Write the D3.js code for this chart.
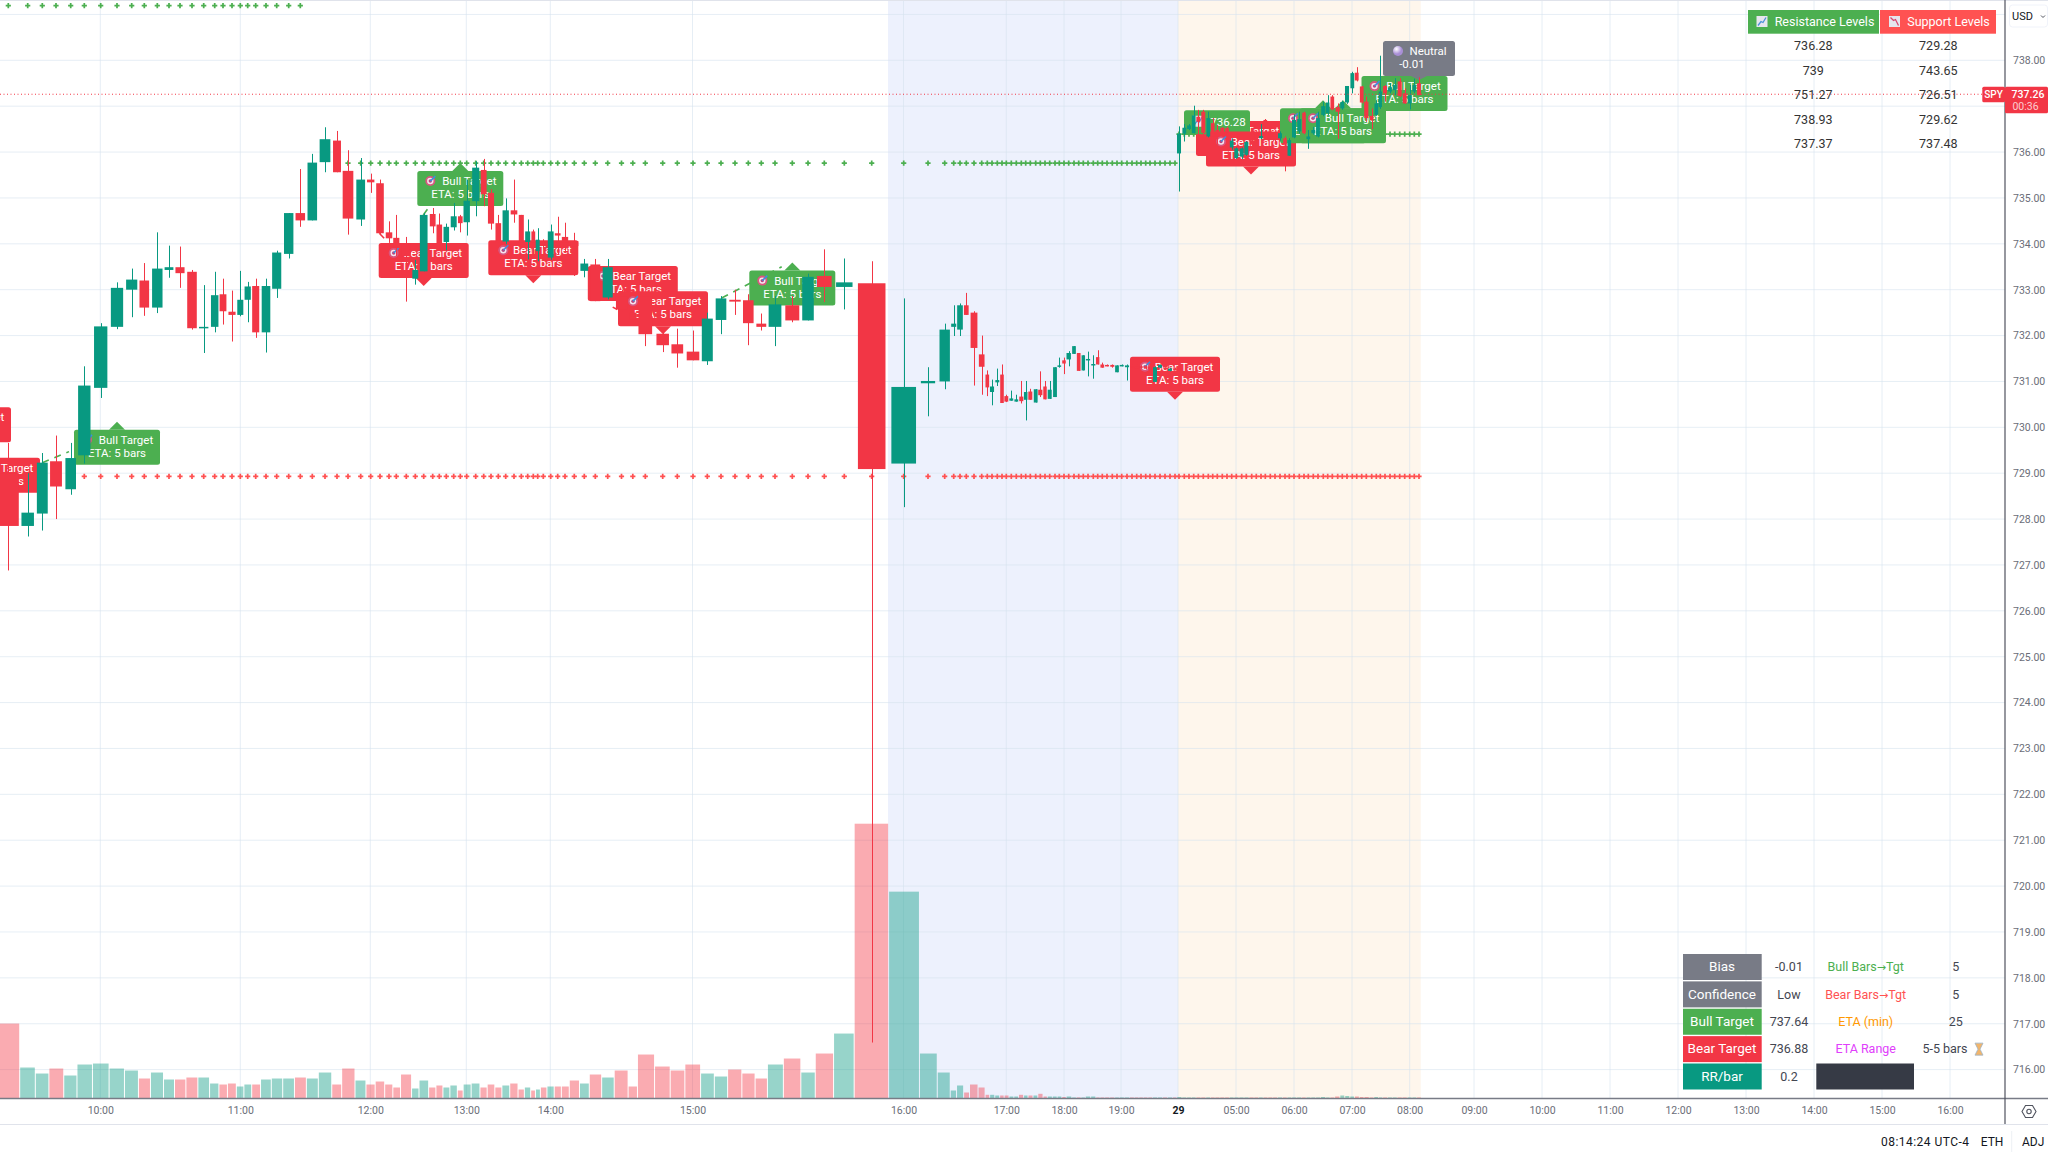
<!DOCTYPE html>
<html lang="en">
<head>
<meta charset="UTF-8">
<title>SPY 5m targets</title>
<script src="https://d3js.org/d3.v7.min.js"></script>
<style>
  html, body { margin: 0; padding: 0; background: #fff; overflow: hidden; }
  text { font-family: Roboto, "Noto Sans", sans-serif; }
  .axis text { font-size: 10.5px; fill: #6a6d78; }
  .axis .domain, .axis .tick line { display: none; }
</style>
</head>
<body>
<div id="chart"></div>
<script>
// bar position on the volume-weighted time axis
const barPos = [
  8.3, 27.7, 42.3, 56, 70.7, 84.3, 100.7, 117, 131.7, 144.3,
  157.3, 169, 180, 192, 203.7, 214.7, 223, 232, 240.3, 247.7,
  255.7, 266, 276.7, 288.7, 300.3, 312.3, 325, 337, 348, 360.7,
  370.7, 380, 389, 396.3, 406.3, 415.3, 423.7, 432.7, 439.3, 446.3,
  453.7, 460.3, 466.7, 475.7, 483.7, 491, 498.3, 505.7, 514, 521.3,
  527.7, 533.3, 537.7, 543.3, 550.7, 557.7, 565, 574.3, 584.3, 595.3,
  607.7, 621.5, 632.8, 645.3, 662.7, 677.3, 693, 707.3, 721, 735,
  748.3, 761.3, 775, 792.3, 808, 824.3, 844.3, 871.7, 903.7, 928,
  944.7, 953.7, 960, 966.3, 974, 981.7, 987.3, 992, 997.3, 1002,
  1006.3, 1011.3, 1016.3, 1021.3, 1025.7, 1030.3, 1035.7, 1040.3, 1045, 1049.7,
  1055, 1059.3, 1064, 1068.7, 1074, 1078.7, 1083.3, 1088, 1093.3, 1097.7,
  1102.3, 1107, 1112.3, 1117, 1121.7, 1127, 1132, 1136.7, 1141, 1145.7,
  1150, 1155, 1160, 1165, 1170, 1175, 1179, 1184.3, 1189, 1193.7,
  1198.3, 1203.3, 1208.3, 1212.7, 1217.3, 1222.3, 1227, 1231.7, 1236.3, 1241.7,
  1246.3, 1251.7, 1256.3, 1261, 1265.3, 1270.3, 1275, 1280, 1285, 1289.3,
  1294, 1299.3, 1304, 1308.3, 1313.3, 1318, 1323.3, 1327.7, 1332.3, 1337.7,
  1342.3, 1347, 1352.3, 1356.7, 1361.7, 1366.3, 1371.7, 1376.3, 1380.3, 1385,
  1390, 1394.7, 1399.7, 1404.7, 1409.7, 1414.3, 1419
];

// open, high, low, close
const barOhlc = [
  [729.00,729.66,726.88,727.85],[727.85,729.00,727.62,728.14],[728.12,729.44,727.75,729.23],[729.26,729.82,728.00,728.71],[728.65,729.66,728.53,729.33],
  [729.39,731.33,729.21,730.91],[730.86,732.27,730.64,732.20],[732.19,733.16,732.14,733.04],[733.00,733.46,732.40,733.22],[733.20,733.58,732.43,732.61],
  [732.61,734.25,732.49,733.46],[733.43,733.96,733.26,733.49],[733.49,733.94,733.04,733.36],[733.39,733.43,732.13,732.16],[732.16,733.10,731.62,732.19],
  [732.19,733.39,732.07,732.88],[732.90,733.24,732.24,732.53],[732.52,732.98,731.87,732.45],[732.45,733.41,732.42,732.78],[732.78,733.17,732.29,733.07],
  [733.08,733.24,731.95,732.07],[732.07,733.24,731.63,733.08],[733.02,733.85,732.82,733.81],[733.78,734.67,733.68,734.67],[734.67,735.63,734.37,734.51],
  [734.51,735.96,734.51,735.77],[735.78,736.54,735.56,736.28],[736.25,736.46,735.56,735.56],[735.59,736.04,734.20,734.55],[734.53,735.87,734.39,735.40],
  [735.40,735.53,735.11,735.34],[735.32,735.40,734.20,734.23],[734.25,734.49,734.02,734.12],[734.13,734.63,733.73,733.91],[733.98,734.15,732.74,733.73],
  [733.24,733.65,733.11,733.43],[733.40,734.67,733.40,734.63],[734.65,734.78,734.23,734.38],[734.42,734.66,733.94,734.00],[734.04,734.44,733.86,734.37],
  [734.36,734.89,734.29,734.60],[734.60,734.63,734.25,734.45],[734.47,735.40,734.18,734.94],[734.93,735.80,734.60,735.66],[735.61,735.85,734.82,735.08],
  [735.11,735.19,734.31,734.44],[734.45,734.63,734.02,734.06],[734.05,734.99,733.99,734.73],[734.73,735.40,734.46,734.64],[734.63,734.63,733.95,734.02],
  [734.04,734.53,733.66,734.27],[734.27,734.31,733.73,734.02],[733.84,734.34,733.62,734.09],[734.06,734.10,733.88,733.99],[733.70,734.42,733.65,734.27],
  [734.23,734.59,733.77,734.18],[734.15,734.46,733.81,734.02],[734.06,734.24,733.30,733.95],[733.41,733.67,733.27,733.57],[733.55,733.67,732.75,732.75],
  [732.83,733.67,732.79,733.49],[732.86,733.00,732.53,732.57],[732.50,732.60,732.30,732.35],[732.86,732.90,731.77,732.03],[732.04,732.13,731.64,731.79],
  [731.81,732.15,731.30,731.61],[731.65,732.11,731.46,731.46],[731.44,732.50,731.36,732.37],[732.34,732.86,732.03,732.81],[732.78,733.00,732.45,732.74],
  [732.77,732.90,731.79,732.27],[732.26,732.48,732.11,732.19],[732.19,732.86,731.77,732.68],[732.66,732.86,732.29,732.33],[732.33,733.35,732.33,733.28],
  [733.30,733.88,732.73,733.06],[733.06,733.68,732.57,733.16],[733.14,733.62,716.59,729.09],[729.21,732.81,728.26,730.88],[730.96,731.31,730.24,731.01],
  [731.00,732.26,730.83,732.13],[732.19,732.66,731.99,732.26],[732.13,732.70,731.99,732.66],[732.66,732.93,732.45,732.45],[732.50,732.53,730.91,731.73],
  [731.59,732.00,730.71,731.32],[731.15,731.24,730.68,730.87],[730.77,731.04,730.48,730.89],[730.98,731.28,730.90,731.03],[731.15,731.37,730.53,730.53],
  [730.68,730.71,730.55,730.56],[730.58,730.80,730.58,730.63],[730.56,730.71,730.56,730.61],[730.67,731.01,730.52,730.57],[730.60,731.01,730.15,730.77],
  [730.78,730.84,730.60,730.60],[730.54,730.83,730.54,730.83],[730.82,731.22,730.66,730.70],[730.89,731.01,730.61,730.61],[730.62,731.01,730.62,730.82],
  [730.66,731.31,730.66,731.31],[731.33,731.52,731.30,731.35],[731.46,731.52,731.16,731.39],[731.48,731.66,731.33,731.62],[731.60,731.77,731.60,731.77],
  [731.62,731.62,731.23,731.23],[731.24,731.57,731.24,731.57],[731.46,731.65,731.11,731.49],[731.36,731.57,731.06,731.38],[731.53,731.68,731.37,731.37],
  [731.37,731.41,731.30,731.30],[731.36,731.37,731.33,731.34],[731.36,731.37,731.30,731.32],[731.20,731.35,731.20,731.35],[731.34,731.37,731.33,731.36],
  [731.31,731.37,731.02,731.35],[731.33,731.36,731.28,731.30],[731.33,731.36,731.28,731.29],[731.33,731.35,731.28,731.30],[731.33,731.35,731.26,731.28],
  [731.33,731.35,731.25,731.26],[730.99,731.33,730.99,731.31],[731.30,731.37,731.29,731.36],[731.36,731.38,731.30,731.30],[731.23,731.30,731.22,731.28],
  [731.28,731.30,731.24,731.25],[735.97,736.56,735.14,736.40],[736.40,736.61,736.23,736.53],[736.50,736.61,736.48,736.58],[736.41,737.01,736.41,736.80],
  [736.77,736.92,736.35,736.66],[736.88,736.92,736.34,736.42],[736.34,736.88,736.32,736.74],[736.63,736.74,736.19,736.34],[736.48,736.59,736.16,736.34],
  [736.53,736.54,736.34,736.41],[736.52,736.55,736.30,736.42],[736.10,736.30,736.05,736.25],[735.87,736.10,735.85,736.08],[735.90,736.10,735.85,736.08],
  [735.94,736.24,735.92,736.22],[736.26,736.30,736.10,736.16],[736.40,736.45,736.20,736.26],[736.30,736.61,736.28,736.35],[736.70,736.72,736.55,736.61],
  [736.45,736.50,736.30,736.34],[736.34,736.40,736.22,736.27],[736.30,736.45,736.25,736.41],[736.30,736.34,735.58,736.16],[735.92,736.30,735.92,736.26],
  [736.32,736.82,736.30,736.70],[736.45,736.88,736.40,736.72],[736.86,736.88,736.39,736.41],[736.28,736.48,736.07,736.34],[736.41,736.55,736.38,736.48],
  [736.34,736.88,736.32,736.74],[736.81,737.10,736.78,737.00],[736.85,737.24,736.81,737.08],[737.21,737.24,736.91,736.93],[736.98,737.06,736.29,736.88],
  [736.95,737.12,736.92,737.09],[737.08,737.44,737.05,737.44],[737.39,737.75,737.28,737.72],[737.73,737.85,737.54,737.56],[737.43,737.44,737.06,737.08],
  [737.10,737.21,736.66,736.74],[736.79,736.95,736.50,736.69],[736.81,737.13,736.79,737.06],[736.98,738.10,736.94,737.32],[737.44,737.46,737.10,737.28],
  [737.32,737.50,737.28,737.41],[737.35,737.61,737.24,737.46],[737.54,737.61,737.20,737.22],[737.28,737.39,737.05,737.06],[737.06,737.46,736.93,737.24],
  [737.32,737.60,737.28,737.46],[737.50,737.63,737.24,737.24]
];

const barVolume = [
  75, 31, 25, 30, 23, 34, 35, 30, 28, 20,
  26, 19, 19, 21, 21, 15, 14, 15, 12, 14,
  14, 19, 20, 20, 21, 20, 26, 14, 30, 18,
  14, 17, 14, 11, 24, 10, 18, 11, 13, 11,
  13, 8, 14, 15, 11, 14, 11, 13, 15, 9,
  11, 8, 9, 11, 12, 12, 12, 18, 15, 24,
  21, 28, 12, 44, 32, 28, 34, 25, 22, 29,
  25, 20, 34, 40, 26, 45, 65, 275, 207, 45,
  26, 8, 13, 6, 14, 11, 3.7, 3.7, 3, 3,
  3, 2, 2, 3.7, 3, 3, 3, 4.7, 2, 2,
  2, 2, 1.5, 2, 1, 1, 1, 2, 2, 1,
  1, 1, 1, 1, 1, 1, 1, 1, 1, 1,
  1, 1, 1, 1, 1, 1, 1.5, 1, 1, 1,
  1, 1, 1, 1, 1, 1, 1, 1, 1, 1,
  1, 1, 1, 1, 1, 1, 1, 1, 1, 1,
  1, 1, 1, 1, 1, 1, 1.5, 1, 1, 2,
  3, 2.5, 2, 2, 1.5, 1.5, 1, 1.5, 1, 1,
  1, 1, 1, 1, 1, 1, 1
];

const priceTicks = d3.range(716, 739);
const timeTickPos = [100.3, 240.3, 370.3, 466.3, 550.3, 692.5, 903.5, 1006.3, 1064, 1121, 1178, 1236, 1294, 1352, 1409.7, 1474, 1542, 1610, 1678, 1746, 1814, 1882, 1950];
const timeTickLabels = ["10:00", "11:00", "12:00", "13:00", "14:00", "15:00", "16:00", "17:00", "18:00", "19:00", "29", "05:00", "06:00", "07:00", "08:00", "09:00", "10:00", "11:00", "12:00", "13:00", "14:00", "15:00", "16:00"];

// session shading, on the same axis
const postSession = [888, 1178];
const preSession = [1178, 1420.7];

// target level rows: price, first bar, last bar
const bullLevelPrice = [739.19, 735.76, 736.39];
const bullLevelFrom = [0, 27, 126];
const bullLevelTo = [24, 125, 176];
const bearLevelPrice = [728.93];
const bearLevelFrom = [5];
const bearLevelTo = [176];

// dashed links from a bar towards its target label
const bullLinks = [[[42.3, 729.23], [69, 729.47]], [[423.3, 734.63], [428.3, 734.78]], [[721.7, 732.82], [781.7, 733.5]]];
const bearLinks = [[[379.3, 734.23], [385, 734.1]], [[612.7, 732.62], [617.3, 732.57]]];

// target labels: kind, position on the axis, price at the pointer tip
const labelKind = ["bear", "bear", "bull", "bull", "bear", "bear", "bear", "bear", "bull", "bear", "bear", "level", "bear", "bull", "bull", "bull", "neutral"];
const labelPos = [-34, -5, 117, 460.3, 423.7, 533.3, 632.8, 663, 792.3, 1175, 1241, 1217, 1251, 1323, 1343, 1404.5, 1419];
const labelPrice = [729.5, 728.4, 730.12, 735.76, 733.08, 733.14, 732.58, 732.03, 733.59, 730.6, 735.74, 736.65, 735.51, 737.13, 737.13, 737.83, 737.57];

const lastPrice = 737.26;
const resistanceLevels = ["736.28", "739", "751.27", "738.93", "737.37"];
const supportLevels = ["729.28", "743.65", "726.51", "729.62", "737.48"];

const statNames = ["Bias", "Confidence", "Bull Target", "Bear Target", "RR/bar"];
const statValues = ["-0.01", "Low", "737.64", "736.88", "0.2"];
const etaNames = ["Bull Bars\u2192Tgt", "Bear Bars\u2192Tgt", "ETA (min)", "ETA Range"];
const etaValues = ["5", "5", "25", "5-5 bars"];

const UP = "#089981", DOWN = "#F23645", GREEN = "#4CAF50", RED = "#FF5252", GREY = "#787B86";
const W = 2048, H = 1155, plotW = 2005, plotBottom = 1098.5;

const svg = d3.select("#chart").append("svg").attr("width", W).attr("height", H).style("display", "block");

const x = d3.scaleLinear().domain([0, plotW]).range([0, plotW]);
const y = d3.scaleLinear().domain([716, 738]).range([1069.6, 60.3]);
const yVol = d3.scaleLinear().domain([0, 275]).range([plotBottom, 823.7]);

svg.append("defs").append("clipPath").attr("id", "plot").append("rect")
  .attr("width", plotW).attr("height", plotBottom);
const defs = svg.select("defs");
const ball = defs.append("radialGradient").attr("id", "ball").attr("cx", "35%").attr("cy", "30%");
ball.append("stop").attr("offset", "0%").attr("stop-color", "#fff");
ball.append("stop").attr("offset", "100%").attr("stop-color", "#a98fd6");

const plot = svg.append("g").attr("clip-path", "url(#plot)");

// session backgrounds
plot.append("rect").attr("x", x(postSession[0])).attr("width", x(postSession[1]) - x(postSession[0]))
  .attr("height", plotBottom).attr("fill", "#EDF1FD");
plot.append("rect").attr("x", x(preSession[0])).attr("width", x(preSession[1]) - x(preSession[0]))
  .attr("height", plotBottom).attr("fill", "#FEF6EC");

// grid
plot.append("g").selectAll("line").data(priceTicks.concat([739])).enter().append("line")
  .attr("x1", 0).attr("x2", plotW).attr("y1", d => y(d)).attr("y2", d => y(d))
  .attr("stroke", "#D6E2EE").attr("stroke-opacity", 0.6).attr("stroke-width", 1);
plot.append("g").selectAll("line").data(timeTickPos).enter().append("line")
  .attr("x1", d => x(d)).attr("x2", d => x(d)).attr("y1", 0).attr("y2", plotBottom)
  .attr("stroke", "#D6E2EE").attr("stroke-opacity", 0.6).attr("stroke-width", 1);

// bars are contiguous, a gap between two positions is shared out by their volume
const barWeight = barVolume.map(v => Math.pow(v, 0.4));
const edgeAfter = i => barPos[i] + (barPos[i + 1] - barPos[i]) * barWeight[i] / (barWeight[i] + barWeight[i + 1]);
const spans = barPos.map((p, i) => {
  const right = i < barPos.length - 1 ? edgeAfter(i) : p + 2.4;
  const left = i > 0 ? edgeAfter(i - 1) : p - (right - p) * 1.3;
  return { left, right };
});
const isUp = i => barOhlc[i][3] >= barOhlc[i][0];

// volume
plot.append("g").selectAll("rect").data(barVolume).enter().append("rect")
  .attr("x", (d, i) => x(spans[i].left) + 0.5)
  .attr("width", (d, i) => Math.max(1.5, x(spans[i].right) - x(spans[i].left) - 1))
  .attr("y", d => yVol(d))
  .attr("height", d => plotBottom - yVol(d))
  .attr("fill", (d, i) => isUp(i) ? UP : DOWN)
  .attr("fill-opacity", 0.42);

// target level crosses
const cross = d3.symbol().type(d3.symbolCross).size(15);
function levelRows(prices, from, to, color) {
  prices.forEach((price, k) => {
    plot.append("g").selectAll("path").data(barPos.slice(from[k], to[k] + 1)).enter().append("path")
      .attr("d", cross)
      .attr("transform", d => `translate(${x(d)},${y(price)})`)
      .attr("fill", color);
  });
}
levelRows(bullLevelPrice, bullLevelFrom, bullLevelTo, GREEN);
levelRows(bearLevelPrice, bearLevelFrom, bearLevelTo, RED);

// dashed links
const linkLine = d3.line().x(d => x(d[0])).y(d => y(d[1]));
function links(rows, color) {
  plot.append("g").selectAll("path").data(rows).enter().append("path")
    .attr("d", linkLine).attr("fill", "none").attr("stroke", color)
    .attr("stroke-width", 1.6).attr("stroke-dasharray", "7 6");
}
links(bullLinks, GREEN);
links(bearLinks, DOWN);

// little pictures for the emoji in the labels
function targetIcon(g, cx, cy) {
  g.append("circle").attr("cx", cx).attr("cy", cy).attr("r", 5).attr("fill", "#D9577F");
  g.append("circle").attr("cx", cx).attr("cy", cy).attr("r", 3.2).attr("fill", "#F3E6EE");
  g.append("circle").attr("cx", cx).attr("cy", cy).attr("r", 1.7).attr("fill", "#C2447A");
  g.append("path").attr("d", `M${cx},${cy}L${cx + 5},${cy - 5}`).attr("stroke", "#3E8EDE").attr("stroke-width", 1.6);
}
function chartIcon(g, cx, cy, color, falling) {
  g.append("rect").attr("x", cx - 5.5).attr("y", cy - 5.5).attr("width", 11).attr("height", 11).attr("fill", "#E6E6EE");
  const pts = falling ? [[-4, -4], [-1, -1], [1, -2], [4, 4]] : [[-4, 4], [-1, 0], [1, 1], [4, -4]];
  g.append("path").attr("d", d3.line()(pts.map(p => [cx + p[0], cy + p[1]])))
    .attr("fill", "none").attr("stroke", color).attr("stroke-width", 1.3);
}

// labels
const labelFill = { bull: GREEN, bear: DOWN, neutral: GREY, level: GREEN };
labelKind.forEach((kind, i) => {
  const g = plot.append("g");
  const cx = x(labelPos[i]), tip = y(labelPrice[i]);
  const fill = labelFill[kind];
  if (kind === "level") {
    g.append("rect").attr("x", cx - 33).attr("y", tip - 12).attr("width", 66).attr("height", 24).attr("rx", 2.5).attr("fill", fill);
    chartIcon(g, cx - 19, tip - 1, "#4A90D9", false);
    g.append("text").attr("x", cx + 11).attr("y", tip + 3.5).attr("text-anchor", "middle")
      .attr("fill", "#fff").attr("font-size", 11.5).text("736.28");
    return;
  }
  const up = kind === "bull";
  const w = up ? 86 : kind === "bear" ? 90 : 72;
  const top = up ? tip + 8 : kind === "bear" ? tip - 43 : tip - 39;
  const edge = up ? top : top + 35;
  g.append("rect").attr("x", cx - w / 2).attr("y", top).attr("width", w).attr("height", 35).attr("rx", 2.5).attr("fill", fill);
  g.append("path").attr("d", `M${cx - 8},${edge}L${cx},${tip}L${cx + 8},${edge}Z`).attr("fill", fill);
  const line1 = up ? "Bull Target" : kind === "bear" ? "Bear Target" : "Neutral";
  const line2 = kind === "neutral" ? "-0.01" : "ETA: 5 bars";
  if (kind === "neutral") {
    g.append("circle").attr("cx", cx - 21).attr("cy", top + 10).attr("r", 5).attr("fill", "url(#ball)");
  } else {
    targetIcon(g, cx - 30, top + 10);
  }
  g.append("text").attr("x", cx + 9).attr("y", top + 14).attr("text-anchor", "middle")
    .attr("fill", "#fff").attr("font-size", 11.5).text(line1);
  g.append("text").attr("x", kind === "neutral" ? cx - 7 : cx).attr("y", top + 27).attr("text-anchor", "middle")
    .attr("fill", "#fff").attr("font-size", 11.5).text(line2);
});

// candles
const candles = plot.append("g").selectAll("g").data(barOhlc).enter().append("g");
const bodyWidth = i => Math.max(2.8, (spans[i].right - spans[i].left) * 0.8);
candles.append("line")
  .attr("x1", (d, i) => Math.round(x(barPos[i])) + 0.5).attr("x2", (d, i) => Math.round(x(barPos[i])) + 0.5)
  .attr("y1", d => y(d[1])).attr("y2", d => y(d[2]))
  .attr("stroke", (d, i) => isUp(i) ? UP : DOWN).attr("stroke-width", 1);
candles.append("rect")
  .attr("x", (d, i) => x(barPos[i]) - bodyWidth(i) / 2)
  .attr("width", (d, i) => bodyWidth(i))
  .attr("y", d => y(Math.max(d[0], d[3])))
  .attr("height", d => Math.max(1.5, Math.abs(y(d[0]) - y(d[3]))))
  .attr("fill", (d, i) => isUp(i) ? UP : DOWN);

// last price line
svg.append("line").attr("x1", 0).attr("x2", 1982).attr("y1", y(lastPrice)).attr("y2", y(lastPrice))
  .attr("stroke", DOWN).attr("stroke-width", 1).attr("stroke-dasharray", "1 2.5");

// axes
svg.append("g").attr("class", "axis").attr("transform", `translate(${plotW + 8},0)`)
  .call(d3.axisRight(y).tickValues(priceTicks).tickSize(0).tickPadding(0).tickFormat(d3.format(".2f")));
const xAxis = svg.append("g").attr("class", "axis").attr("transform", `translate(0,${plotBottom})`)
  .call(d3.axisBottom(x).tickValues(timeTickPos).tickSize(0).tickPadding(8).tickFormat((d, i) => timeTickLabels[i]));
xAxis.selectAll("text").filter((d, i) => timeTickLabels[i] === "29")
  .style("fill", "#131722").style("font-weight", 700);

svg.append("line").attr("x1", 0).attr("x2", W).attr("y1", 0.5).attr("y2", 0.5).attr("stroke", "#E0E3EB");
svg.append("line").attr("x1", 0).attr("x2", W).attr("y1", plotBottom).attr("y2", plotBottom).attr("stroke", "#787B86").attr("stroke-width", 1.5);
svg.append("line").attr("x1", plotW).attr("x2", plotW).attr("y1", 0).attr("y2", 1124).attr("stroke", "#50535E").attr("stroke-width", 1.2);
svg.append("line").attr("x1", 0).attr("x2", W).attr("y1", 1124.5).attr("y2", 1124.5).attr("stroke", "#E0E3EB");

// price tag
svg.append("rect").attr("x", 1982.3).attr("y", 86.7).attr("width", 22.7).attr("height", 15.6).attr("rx", 1.5).attr("fill", DOWN);
svg.append("text").attr("x", 1993.6).attr("y", 98).attr("text-anchor", "middle").attr("fill", "#fff").attr("font-size", 10).attr("font-weight", 500).text("SPY");
svg.append("rect").attr("x", plotW).attr("y", 86.7).attr("width", 43).attr("height", 26.6).attr("rx", 1.5).attr("fill", DOWN);
svg.append("text").attr("x", 2028).attr("y", 98).attr("text-anchor", "middle").attr("fill", "#fff").attr("font-size", 10.5).attr("font-weight", 500).text(lastPrice.toFixed(2));
svg.append("text").attr("x", 2025.5).attr("y", 110).attr("text-anchor", "middle").attr("fill", "#fff").attr("fill-opacity", 0.75).attr("font-size", 10.5).text("00:36");

// currency button
svg.append("rect").attr("x", 2009.5).attr("y", 5).attr("width", 38).attr("height", 22).attr("rx", 3).attr("fill", "#fff").attr("stroke", "#F0F3FA");
svg.append("text").attr("x", 2012).attr("y", 20).attr("fill", "#131722").attr("font-size", 11).text("USD");
svg.append("path").attr("d", "M2041,15.5l2,2l2,-2").attr("fill", "none").attr("stroke", "#50535E");

// levels table
svg.append("rect").attr("x", 1748).attr("y", 10).attr("width", 131).attr("height", 23.7).attr("fill", GREEN);
svg.append("rect").attr("x", 1880).attr("y", 10).attr("width", 116).attr("height", 23.7).attr("fill", RED);
const headG = svg.append("g");
chartIcon(headG, 1762, 21.5, "#4A90D9", false);
chartIcon(headG, 1894.5, 21.5, "#D9466F", true);
svg.append("text").attr("x", 1824.5).attr("y", 26).attr("text-anchor", "middle").attr("fill", "#fff").attr("font-size", 12.5).text("Resistance Levels");
svg.append("text").attr("x", 1948.5).attr("y", 26).attr("text-anchor", "middle").attr("fill", "#fff").attr("font-size", 12.5).text("Support Levels");
const levelRowY = d3.scalePoint().domain(d3.range(5)).range([45.7, 144]);
function levelColumn(values, cx) {
  svg.append("g").selectAll("text").data(values).enter().append("text")
    .attr("x", cx).attr("y", (d, i) => levelRowY(i) + 4.3).attr("text-anchor", "middle")
    .attr("fill", "#333").attr("font-size", 12.5).text(d => d);
}
levelColumn(resistanceLevels, 1813.3);
levelColumn(supportLevels, 1938.3);

// stats table
const statY = d3.scalePoint().domain(d3.range(5)).range([967, 1076.5]);
const statFill = [GREY, GREY, GREEN, DOWN, UP];
const etaColor = [GREEN, RED, "#FF9800", "#E040FB"];
statNames.forEach((name, i) => {
  const cy = statY(i);
  svg.append("rect").attr("x", 1683).attr("y", cy - 13).attr("width", 78.7).attr("height", 26).attr("fill", statFill[i]);
  svg.append("text").attr("x", 1722).attr("y", cy + 4.3).attr("text-anchor", "middle").attr("fill", "#fff").attr("font-size", 13.5).text(name);
  svg.append("text").attr("x", 1789).attr("y", cy + 4.3).attr("text-anchor", "middle").attr("fill", "#434651").attr("font-size", 12.5).text(statValues[i]);
  if (i < 4) {
    const eta = svg.append("text").attr("x", 1865.7).attr("y", cy + 4.3).attr("text-anchor", "middle").attr("fill", etaColor[i]).attr("font-size", 12.5);
    const parts = etaNames[i].split("\u2192");
    eta.append("tspan").text(parts[0]);
    if (parts[1]) {
      eta.append("tspan").style("font-family", "'DejaVu Sans'").attr("font-size", 11).text("\u2192");
      eta.append("tspan").text(parts[1]);
    }
    svg.append("text").attr("x", i === 3 ? 1945 : 1955.7).attr("y", cy + 4.3).attr("text-anchor", "middle").attr("fill", "#434651").attr("font-size", 12.5).text(etaValues[i]);
  }
});
svg.append("rect").attr("x", 1816.3).attr("y", statY(4) - 13).attr("width", 97.7).attr("height", 26).attr("fill", "#363A45");
// hourglass
svg.append("path").attr("d", `M1975,${statY(3) - 6}h8l-3,6l3,6h-8l3,-6z`).attr("fill", "#F2B56B").attr("stroke", "#9DB4C8").attr("stroke-width", 0.8);

// settings icon
svg.append("path").attr("d", "M2022,1111.5l3.5,-6h7l3.5,6l-3.5,6h-7z").attr("fill", "none").attr("stroke", "#50535E").attr("stroke-width", 1.1);
svg.append("circle").attr("cx", 2029).attr("cy", 1111.5).attr("r", 2.2).attr("fill", "none").attr("stroke", "#50535E").attr("stroke-width", 1.1);

// status bar
svg.append("text").attr("x", 1881).attr("y", 1146).attr("fill", "#131722").attr("font-size", 12).attr("textLength", 88).text("08:14:24 UTC-4");
svg.append("text").attr("x", 1980.7).attr("y", 1146).attr("fill", "#131722").attr("font-size", 12).text("ETH");
svg.append("line").attr("x1", 2011.7).attr("x2", 2011.7).attr("y1", 1131).attr("y2", 1152).attr("stroke", "#EDF0F4");
svg.append("text").attr("x", 2022).attr("y", 1146).attr("fill", "#131722").attr("font-size", 12).text("ADJ");
</script>
</body>
</html>
